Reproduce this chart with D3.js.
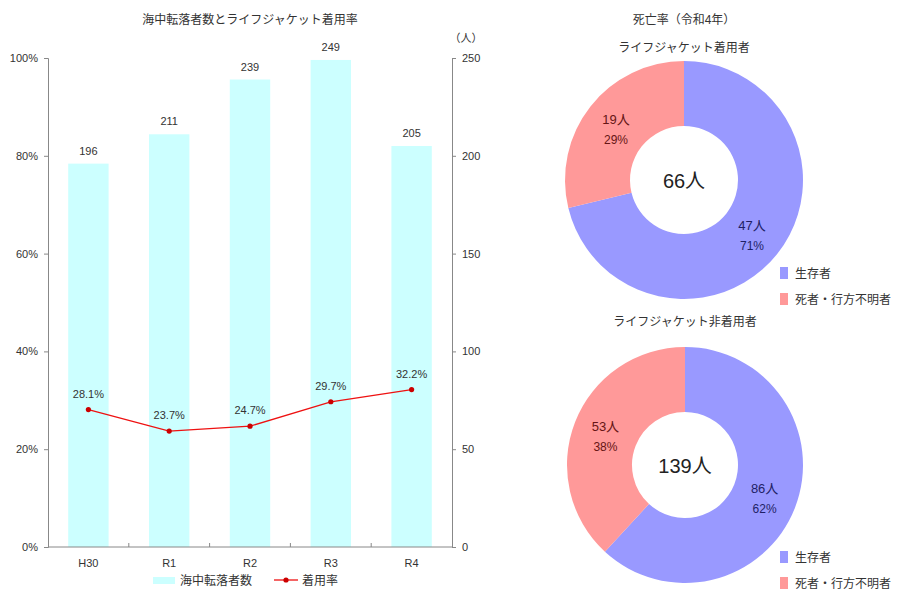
<!DOCTYPE html>
<html><head><meta charset="utf-8">
<script src="https://cdn.jsdelivr.net/npm/d3@7"></script>
<style>
body{margin:0;background:#fff;}
text{font-family:"Liberation Sans","Noto Sans CJK JP",sans-serif;fill:#333;}
</style></head>
<body><svg id="c" width="898" height="590"></svg>
<script>
const years = ['H30','R1','R2','R3','R4'];
const fallCounts = [196,211,239,249,205];
const wearRate = [28.1,23.7,24.7,29.7,32.2];
const pctTicks = [0,20,40,60,80,100];
const cntTicks = [0,50,100,150,200,250];
const pieLabels = ['生存者','死者・行方不明者'];
const wearers = [47,19];
const nonWearers = [86,53];
const pieColors = ['#9999ff','#ff9999'];
const pieTextColors = ['#1f1f66','#661515'];

const svg = d3.select('#c');
const L = 48, R = 452, T = 58, B = 547;
const x = d3.scaleBand().domain(years).range([L,R]).paddingInner(0.5).paddingOuter(0.25);
const xb = d3.scaleBand().domain(years).range([L,R]);
const yP = d3.scaleLinear().domain([0,100]).range([B,T]);
const yC = d3.scaleLinear().domain([0,250]).range([B,T]);

svg.append('text').attr('x',250).attr('y',24).attr('text-anchor','middle')
  .style('font-size','12px').text('海中転落者数とライフジャケット着用率');

// bars
svg.selectAll('rect.bar').data(fallCounts).join('rect').attr('class','bar')
  .attr('x',(d,i)=>x(years[i])).attr('width',x.bandwidth())
  .attr('y',d=>yC(d)).attr('height',d=>B-yC(d)).attr('fill','#ccffff');
svg.selectAll('text.bl').data(fallCounts).join('text').attr('class','bl')
  .attr('x',(d,i)=>xb(years[i])+xb.bandwidth()/2).attr('y',d=>yC(d)-9)
  .attr('text-anchor','middle').style('font-size','11px').text(d=>d);

// axes
const axStyle = g=>{g.selectAll('path,line').attr('stroke','#888');g.selectAll('text').style('font-size','11px').attr('fill','#333');};
svg.append('g').attr('transform',`translate(${L},0)`)
  .call(d3.axisLeft(yP).tickValues(pctTicks).tickFormat(d=>d+'%').tickSizeInner(4).tickSizeOuter(4).tickPadding(6)).call(axStyle);
svg.append('g').attr('transform',`translate(${R},0)`)
  .call(d3.axisRight(yC).tickValues(cntTicks).tickSizeInner(4).tickSizeOuter(4).tickPadding(6)).call(axStyle);
const xa = svg.append('g').attr('transform',`translate(0,${B})`);
xa.append('line').attr('x1',L).attr('x2',R).attr('stroke','#888');
xa.selectAll('line.t').data(years.slice(1)).join('line').attr('class','t')
  .attr('x1',d=>xb(d)).attr('x2',d=>xb(d)).attr('y1',0).attr('y2',-4).attr('stroke','#888');
xa.selectAll('text').data(years).join('text')
  .attr('x',d=>xb(d)+xb.bandwidth()/2).attr('y',20).attr('text-anchor','middle')
  .style('font-size','11px').text(d=>d);
svg.append('text').attr('x',466).attr('y',42).attr('text-anchor','middle').style('font-size','11px').text('（人）');

// line
const cx = i=>xb(years[i])+xb.bandwidth()/2;
svg.append('path').datum(wearRate).attr('fill','none').attr('stroke','#ee1111').attr('stroke-width',1.3)
  .attr('d',d3.line().x((d,i)=>cx(i)).y(d=>yP(d)));
svg.selectAll('circle.p').data(wearRate).join('circle').attr('class','p')
  .attr('cx',(d,i)=>cx(i)).attr('cy',d=>yP(d)).attr('r',2.6).attr('fill','#cc0000');
svg.selectAll('text.pl').data(wearRate).join('text').attr('class','pl')
  .attr('x',(d,i)=>cx(i)).attr('y',d=>yP(d)-12).attr('text-anchor','middle')
  .style('font-size','11px').text(d=>d.toFixed(1)+'%');

// legend
svg.append('rect').attr('x',153).attr('y',577).attr('width',22).attr('height',7).attr('fill','#ccffff');
svg.append('text').attr('x',180).attr('y',585).style('font-size','12px').text('海中転落者数');
svg.append('line').attr('x1',274).attr('x2',298).attr('y1',580).attr('y2',580).attr('stroke','#ee1111').attr('stroke-width',1.3);
svg.append('circle').attr('cx',286).attr('cy',580).attr('r',2.6).attr('fill','#cc0000');
svg.append('text').attr('x',302).attr('y',585).style('font-size','12px').text('着用率');

// donuts
svg.append('text').attr('x',684).attr('y',24).attr('text-anchor','middle').style('font-size','12px').text('死亡率（令和4年）');
function donut(vals, title, cx0, cy0, ty, r0, r1, legY){
  svg.append('text').attr('x',cx0).attr('y',ty).attr('text-anchor','middle').style('font-size','12px').text(title);
  const total = d3.sum(vals);
  const arcs = d3.pie().sort(null)(vals);
  const arc = d3.arc().innerRadius(r0).outerRadius(r1);
  const g = svg.append('g').attr('transform',`translate(${cx0},${cy0})`);
  g.selectAll('path').data(arcs).join('path').attr('d',arc).attr('fill',(d,i)=>pieColors[i]);
  const la = d3.arc().innerRadius((r0+r1)/2).outerRadius((r0+r1)/2);
  arcs.forEach((a,i)=>{
    const [lx,ly] = la.centroid(a);
    g.append('text').attr('x',lx).attr('y',ly-3).attr('text-anchor','middle').style('font-size','13px')
      .style('fill',pieTextColors[i]).text(vals[i]+'人');
    g.append('text').attr('x',lx).attr('y',ly+17).attr('text-anchor','middle').style('font-size','12px')
      .style('fill',pieTextColors[i]).text(Math.round(vals[i]/total*100)+'%');
  });
  g.append('text').attr('x',0).attr('y',8).attr('text-anchor','middle').style('font-size','20px').style('fill','#222').text(total+'人');
  pieLabels.forEach((l,i)=>{
    svg.append('rect').attr('x',780).attr('y',legY+i*26-6).attr('width',8).attr('height',12).attr('fill',pieColors[i]);
    svg.append('text').attr('x',795).attr('y',legY+i*26+5).style('font-size','12px').text(l);
  });
}
donut(wearers,'ライフジャケット着用者',684,180,52,54,119,273);
donut(nonWearers,'ライフジャケット非着用者',685,465,326,53,118,557);
</script></body></html>
